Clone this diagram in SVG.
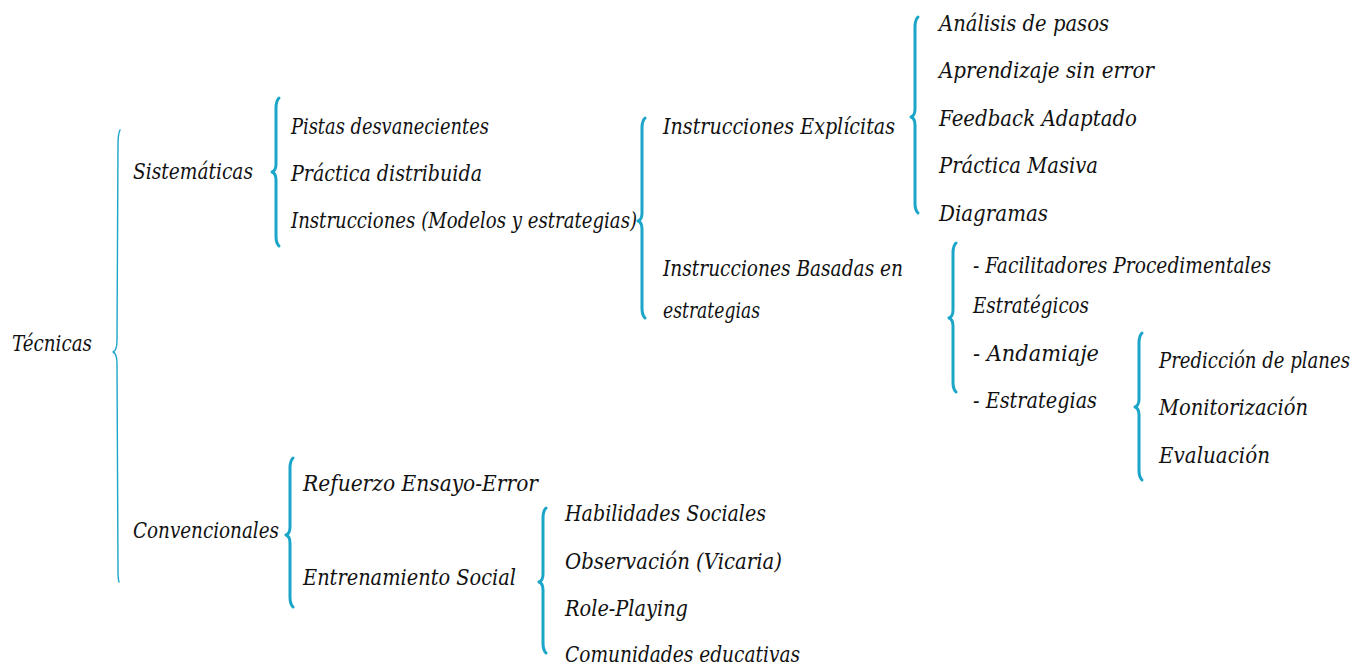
<svg xmlns="http://www.w3.org/2000/svg" width="1368" height="667" viewBox="0 0 1368 667">
  <style>
    .b { fill: none; stroke: #1ba5c8; stroke-width: 3; stroke-linecap: round; stroke-linejoin: round; }
    .thin { stroke-width: 1.4; }
    .lbl { font-family: "DejaVu Serif", "Liberation Serif", serif; font-style: italic; font-size: 22px; fill: #111; }
  </style>
  <rect width="1368" height="667" fill="#fff"/>

  <!-- curly braces grouping each level -->
  <g id="connectors">
    <path class="b thin" d="M120,130 C118,134 118,138 118,145 L117,340 C117,347 116,351 113,352 C116,353 117,357 117,364 L118,570 C118,576 118,579 119,582"/>
    <path class="b" d="M279,98 C277,100 276,103 276,108 L276,164 C276,168 275,171 272,172 C275,173 276,176 276,180 L276,236 C276,241 277,244 279,246"/>
    <path class="b" d="M645,118 C643,120 642,123 642,128 L642,213 C642,217 641,220 638,221 C641,222 642,225 642,229 L642,308 C642,313 643,316 645,318"/>
    <path class="b" d="M918,17 C916,19 915,22 915,27 L915,109 C915,113 914,116 911,117 C914,118 915,121 915,125 L915,203 C915,208 916,211 918,213"/>
    <path class="b" d="M956,243 C954,245 953,248 953,253 L953,310 C953,314 952,317 949,318 C952,319 953,322 953,326 L953,382 C953,387 954,390 956,392"/>
    <path class="b" d="M1142,333 C1140,335 1139,338 1139,343 L1139,399 C1139,403 1138,406 1135,407 C1138,408 1139,411 1139,415 L1139,470 C1139,475 1140,478 1142,480"/>
    <path class="b" d="M293,458 C291,460 290,463 290,468 L290,527 C290,531 289,534 286,535 C289,536 290,539 290,543 L290,597 C290,602 291,605 293,607"/>
    <path class="b" d="M546,508 C544,510 543,513 543,518 L543,574 C543,578 542,581 539,582 C542,583 543,586 543,590 L543,643 C543,648 544,651 546,653"/>
  </g>

  <g id="labels" class="lbl">
    <g id="tecnicas"><text x="12" y="351" textLength="80" lengthAdjust="spacingAndGlyphs">Técnicas</text></g>

    <g id="sistematicas"><text x="133" y="179" textLength="120" lengthAdjust="spacingAndGlyphs">Sistemáticas</text></g>
    <g id="pistas"><text x="291" y="134" textLength="198" lengthAdjust="spacingAndGlyphs">Pistas desvanecientes</text></g>
    <g id="practica-distribuida"><text x="291" y="181" textLength="191" lengthAdjust="spacingAndGlyphs">Práctica distribuida</text></g>
    <g id="instrucciones"><text x="291" y="228" textLength="346" lengthAdjust="spacingAndGlyphs">Instrucciones (Modelos y estrategias)</text></g>

    <g id="explicitas"><text x="663" y="134" textLength="232" lengthAdjust="spacingAndGlyphs">Instrucciones Explícitas</text></g>
    <g id="basadas">
      <text x="663" y="276" textLength="240" lengthAdjust="spacingAndGlyphs">Instrucciones Basadas en</text>
      <text x="663" y="318" textLength="97" lengthAdjust="spacingAndGlyphs">estrategias</text>
    </g>

    <g id="analisis"><text x="939" y="31" textLength="170" lengthAdjust="spacingAndGlyphs">Análisis de pasos</text></g>
    <g id="aprendizaje"><text x="939" y="78" textLength="215" lengthAdjust="spacingAndGlyphs">Aprendizaje sin error</text></g>
    <g id="feedback"><text x="939" y="126" textLength="198" lengthAdjust="spacingAndGlyphs">Feedback Adaptado</text></g>
    <g id="practica-masiva"><text x="939" y="173" textLength="159" lengthAdjust="spacingAndGlyphs">Práctica Masiva</text></g>
    <g id="diagramas"><text x="939" y="221" textLength="109" lengthAdjust="spacingAndGlyphs">Diagramas</text></g>

    <g id="facilitadores">
      <text x="973" y="273" textLength="298" lengthAdjust="spacingAndGlyphs">- Facilitadores Procedimentales</text>
      <text x="973" y="313" textLength="116" lengthAdjust="spacingAndGlyphs">Estratégicos</text>
    </g>
    <g id="andamiaje"><text x="973" y="361" textLength="126" lengthAdjust="spacingAndGlyphs">- Andamiaje</text></g>
    <g id="estrategias"><text x="973" y="408" textLength="124" lengthAdjust="spacingAndGlyphs">- Estrategias</text></g>

    <g id="prediccion"><text x="1159" y="368" textLength="191" lengthAdjust="spacingAndGlyphs">Predicción de planes</text></g>
    <g id="monitorizacion"><text x="1159" y="415" textLength="149" lengthAdjust="spacingAndGlyphs">Monitorización</text></g>
    <g id="evaluacion"><text x="1159" y="463" textLength="111" lengthAdjust="spacingAndGlyphs">Evaluación</text></g>

    <g id="convencionales"><text x="133" y="538" textLength="146" lengthAdjust="spacingAndGlyphs">Convencionales</text></g>
    <g id="refuerzo"><text x="303" y="491" textLength="235" lengthAdjust="spacingAndGlyphs">Refuerzo Ensayo-Error</text></g>
    <g id="entrenamiento"><text x="303" y="585" textLength="213" lengthAdjust="spacingAndGlyphs">Entrenamiento Social</text></g>

    <g id="habilidades"><text x="565" y="521" textLength="201" lengthAdjust="spacingAndGlyphs">Habilidades Sociales</text></g>
    <g id="observacion"><text x="565" y="569" textLength="217" lengthAdjust="spacingAndGlyphs">Observación (Vicaria)</text></g>
    <g id="role-playing"><text x="565" y="616" textLength="123" lengthAdjust="spacingAndGlyphs">Role-Playing</text></g>
    <g id="comunidades"><text x="565" y="662" textLength="235" lengthAdjust="spacingAndGlyphs">Comunidades educativas</text></g>
  </g>
</svg>
